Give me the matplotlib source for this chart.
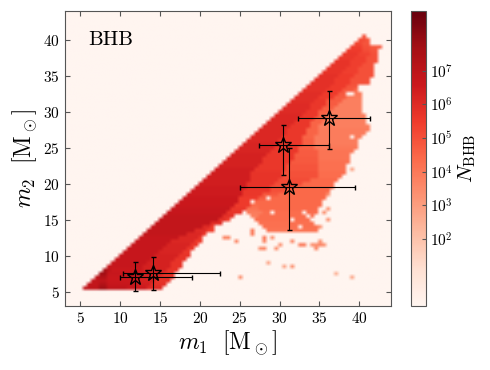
import numpy as np
import matplotlib
matplotlib.use('Agg')
import matplotlib.pyplot as plt
from matplotlib.colors import LogNorm

plt.rcParams['font.family'] = ['cmr10', 'DejaVu Serif']
plt.rcParams['mathtext.fontset'] = 'cm'
plt.rcParams['axes.formatter.use_mathtext'] = True

# each row of the map: m2, then where each run of colour ends in m1 and its log10(N)
row_m2 = [5.5, 6, 6.5, 7, 7.5, 8, 8.5, 9, 9.5, 10, 10.5, 11, 11.5, 12, 12.5, 13, 13.5, 14, 14.5, 15,
          15.5, 16, 16.5, 17, 17.5, 18, 18.5, 19, 19.5, 20, 20.5, 21, 21.5, 22, 22.5, 23, 23.5, 24,
          24.5, 25, 25.5, 26, 26.5, 27, 27.5, 28, 28.5, 29, 29.5, 30, 30.5, 31, 31.5, 32, 32.5, 33,
          33.5, 34, 34.5, 35, 35.5, 36, 36.5, 37, 37.5, 38, 38.5, 39, 39.5, 40, 40.5]
row_ends = [
    [7.5, 8.5, 11, 13.5, 15.3], [7.5, 8.5, 12, 14, 15.8], [7.5, 8.5, 12.5, 14.5, 16.3],
    [7.5, 8.5, 12.5, 15, 16.7], [8.5, 12.5, 15.5, 17], [8.5, 9, 13, 16, 17.3], [13, 16.2, 17.6],
    [13.5, 16.5, 18], [14, 17, 18.3], [14.5, 17.5, 18.7], [15, 18, 19], [15.5, 18.5, 19.5],
    [16, 19, 20], [16.5, 19.5, 20.3], [17.5, 20, 20.5], [18.5, 20.5, 21],
    [19.5, 21, 21.8, 28.5, 34.7], [20.5, 21.5, 22, 28, 34.8], [21.5, 23, 27.5, 34.5],
    [22.5, 23.5, 24, 26.8, 34], [23, 24.5, 26.3, 27.5, 34.5], [23.5, 25.5, 26, 28, 35],
    [24, 26, 27.5, 35], [24.5, 26.3, 27.5, 35.3], [25, 27, 28, 35.5], [25, 27.5, 29, 35.8],
    [25.3, 28, 30, 36.2], [25.5, 29, 31, 36.5], [25.8, 29, 32, 36.8], [26, 29.5, 33, 37],
    [26.3, 30, 34, 37.5], [26.5, 30.5, 35, 38], [26.5, 30.5, 35, 38.3], [27, 31, 35, 38.3],
    [27.5, 31, 35, 38.5], [28, 31.5, 35, 38.7], [28, 32, 35, 38.8], [28.5, 32, 35, 39],
    [29, 32.5, 35, 39.3], [29.5, 32.5, 34.5, 39.7], [30, 33, 34.5, 40], [30, 33, 34.5, 40],
    [30.5, 33, 34.5, 40.3], [31, 33.5, 35, 40.8], [31, 33.5, 35, 41.3], [31.5, 34, 35, 41.3],
    [32, 34, 35.5, 41], [32.5, 34.5, 36, 40.8], [33, 35, 36, 40.6], [33.5, 35, 36.5, 40.5],
    [34, 35.5, 37, 40.3], [34, 36, 37.5, 40.2], [34.5, 36, 38, 40.2], [35, 37, 38.5, 40.3],
    [35.5, 37.5, 39, 40.5], [36, 38, 39.5, 40], [36.5, 38.5, 40], [37, 39, 41.3], [37, 39, 41.5],
    [37.5, 39.5, 41.7], [38, 40, 41.8], [38.5, 40, 41.8], [39, 40.5, 42], [39, 41, 42.2],
    [39.5, 41, 42.3], [40, 41.5, 42.2], [40.5, 41.5, 42.5], [40.5, 41.5, 42.8], [40.5, 41.5],
    [41, 41.3], [41],
]
row_logn = [
    [6.9, 7.7, 6.9, 6.6, 6.0], [6.8, 7.3, 6.7, 6.4, 5.8], [6.8, 6.9, 6.6, 6.3, 5.7],
    [6.9, 7.3, 6.6, 6.3, 5.7], [7.7, 6.7, 6.3, 5.7], [7.6, 7.0, 6.6, 6.3, 5.7], [6.7, 6.3, 5.7],
    [6.7, 6.3, 5.7], [6.7, 6.3, 5.7], [6.7, 6.3, 5.7], [6.7, 6.2, 5.6], [6.7, 6.2, 5.6],
    [6.7, 6.2, 5.6], [6.7, 6.1, 5.5], [6.7, 6.1, 5.5], [6.8, 6.1, 5.5],
    [6.8, 6.0, 5.4, 0, 4.1], [6.8, 6.0, 5.4, 0, 4.2], [6.8, 5.9, 0, 4.2],
    [6.8, 5.8, 5.3, 0, 4.3], [6.8, 5.8, 0, 3.8, 4.3], [6.7, 5.7, 0, 3.9, 4.3],
    [6.7, 5.6, 4.1, 4.4], [6.6, 5.5, 4.3, 4.4], [6.6, 5.5, 4.4, 4.4], [6.6, 5.5, 4.7, 4.4],
    [6.5, 5.6, 4.8, 4.4], [6.5, 5.6, 5.0, 4.4], [6.5, 5.7, 5.0, 4.4], [6.4, 5.7, 5.1, 4.4],
    [6.4, 5.7, 5.1, 4.4], [6.4, 5.7, 5.0, 4.3], [6.4, 5.7, 5.0, 4.3], [6.4, 5.6, 4.9, 4.2],
    [6.3, 5.6, 4.9, 4.2], [6.3, 5.6, 4.8, 4.2], [6.3, 5.6, 4.8, 4.1], [6.3, 5.6, 4.7, 4.1],
    [6.2, 5.6, 4.7, 4.1], [6.2, 5.6, 4.6, 4.0], [6.2, 5.6, 4.6, 3.9], [6.1, 5.6, 4.6, 3.9],
    [6.1, 5.6, 4.5, 3.9], [6.1, 5.6, 4.5, 3.9], [6.1, 5.6, 4.5, 3.9], [6.1, 5.6, 4.5, 3.8],
    [6.1, 5.6, 4.5, 3.8], [6.1, 5.6, 4.5, 3.8], [6.1, 5.6, 4.5, 3.8], [6.0, 5.6, 4.6, 3.8],
    [6.0, 5.6, 4.6, 3.8], [6.0, 5.6, 4.7, 3.8], [5.9, 5.6, 4.7, 3.8], [5.9, 5.5, 4.7, 3.9],
    [5.9, 5.5, 4.8, 4.0], [5.8, 5.5, 4.8, 4.3], [5.8, 5.5, 4.9], [5.8, 5.5, 5.0], [5.8, 5.5, 5.0],
    [5.8, 5.5, 5.0], [5.7, 5.4, 5.0], [5.7, 5.4, 5.0], [5.7, 5.4, 5.0], [5.7, 5.4, 5.0],
    [5.6, 5.4, 5.0], [5.6, 5.3, 5.0], [5.5, 5.1, 4.9], [5.4, 5.0, 4.8], [5.2, 4.9],
    [5.1, 4.8], [5.0],
]

# empty holes inside the populated area
hole_m1 = [31.5, 33, 33.5, 32.5, 29, 26.5, 28.5, 38.5, 39, 39]
hole_m2 = [15, 16, 15.5, 14, 16, 17.5, 18, 32.5, 32.5, 26.5]

# isolated cells below the main population
speck_m1 = [23, 23.5, 24.5, 26.5, 26.5, 28, 27.5, 28, 29, 29.5, 30, 31.5, 32.5, 33, 34, 34.5, 35, 35.5,
            28.5, 30.5, 31.5, 37, 25, 39, 36, 36, 35.5, 35, 39, 36, 28, 34.5, 35]
speck_m2 = [12.5, 12.5, 12, 13.5, 13, 12.5, 11, 11, 12.5, 11, 11.5, 12, 11.5, 11.5, 11.5, 11, 11.5, 11.5,
            9, 8.5, 8.5, 7.5, 7, 7, 16.5, 15, 16, 14, 22, 18.5, 12, 11.5, 12]
speck_logn = [3.6, 3.6, 3.6, 3.9, 3.9, 4.0, 3.3, 3.6, 3.3, 3.3, 3.3, 3.6, 3.9, 3.9, 3.3, 3.6, 3.6, 3.3,
              2.8, 2.8, 3.3, 2.5, 3.3, 2.8, 3.3, 3.3, 3.3, 3.3, 2.8, 3.3, 3.6, 3.3, 3.3]

# observed events: m1 with its lower/upper limits, m2 with its lower/upper limits
event_m1 = [11.9, 14.1, 31.2, 30.45, 36.2]
event_m1_low = [10.0, 10.4, 25.05, 27.4, 32.3]
event_m1_high = [19.0, 22.5, 39.5, 36.2, 41.4]
event_m2 = [7.1, 7.55, 19.5, 25.35, 29.1]
event_m2_low = [5.05, 5.2, 13.55, 21.2, 24.8]
event_m2_high = [9.1, 9.85, 24.9, 28.1, 32.9]

axis_ticks = [5, 10, 15, 20, 25, 30, 35, 40]
m1_centres = np.arange(3, 44.5, 0.5)
m2_centres = np.arange(3, 44.5, 0.5)

logn = np.zeros((len(m2_centres), len(m1_centres)))
for m2, ends, levels in zip(row_m2, row_ends, row_logn):
    j = np.searchsorted(m2_centres, m2)
    start = m2
    for end, level in zip(ends, levels):
        logn[j, (m1_centres >= start) & (m1_centres < end)] = level
        start = end
for m1, m2 in zip(hole_m1, hole_m2):
    logn[np.searchsorted(m2_centres, m2), np.searchsorted(m1_centres, m1)] = 0
for m1, m2, level in zip(speck_m1, speck_m2, speck_logn):
    logn[np.searchsorted(m2_centres, m2), np.searchsorted(m1_centres, m1)] = level

fig = plt.figure(figsize=(4.9, 3.7), dpi=100)
ax = fig.add_axes([64.5 / 490, 64 / 370, 326.5 / 490, 295 / 370])
cax = fig.add_axes([411 / 490, 64 / 370, 15 / 490, 295 / 370])

im = ax.imshow(10 ** logn, origin='lower', aspect='auto', cmap='Reds',
               norm=LogNorm(vmin=1, vmax=6e8), interpolation='bilinear', interpolation_stage='rgba',
               extent=[2.75, 44.25, 2.75, 44.25])

ax.errorbar(event_m1, event_m2,
            xerr=[np.subtract(event_m1, event_m1_low), np.subtract(event_m1_high, event_m1)],
            yerr=[np.subtract(event_m2, event_m2_low), np.subtract(event_m2_high, event_m2)],
            fmt='*', ms=12, mfc='none', mec='k', mew=1, ecolor='k', elinewidth=0.8, capsize=1.8, capthick=1)

ax.set_xlim(3, 44)
ax.set_ylim(3, 44)
ax.set_xticks(axis_ticks)
ax.set_yticks(axis_ticks)
ax.tick_params(direction='in', top=True, right=True, length=3.5, width=0.8, color='#555555', labelsize=11)
ax.set_xlabel(r'$m_1\ \ [\mathrm{M}_\odot]$', fontsize=17, labelpad=2)
ax.set_ylabel(r'$m_2\ \ [\mathrm{M}_\odot]$', fontsize=17, labelpad=3)
ax.text(6.0, 40, 'BHB', fontsize=15, va='center', ha='left')
for spine in ax.spines.values():
    spine.set_color('#555555')

cb = fig.colorbar(im, cax=cax)
cb.set_ticks([1e2, 1e3, 1e4, 1e5, 1e6, 1e7])
cb.ax.minorticks_off()
cb.ax.tick_params(direction='in', length=3, width=0.8, color='#555555', labelsize=11, pad=3)
cb.set_label(r'$N_{\mathrm{BHB}}$', fontsize=15, labelpad=2)
cb.outline.set_edgecolor('#555555')

fig.savefig('out.png', dpi=100)
